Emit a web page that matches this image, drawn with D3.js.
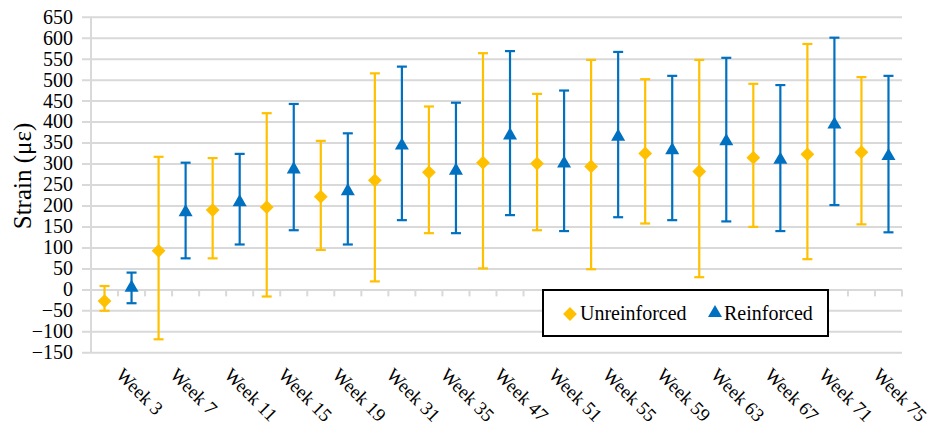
<!DOCTYPE html>
<html>
<head>
<meta charset="utf-8">
<script src="https://cdn.jsdelivr.net/npm/d3@7"></script>
<style>
  body { margin: 0; background: #fff; }
</style>
</head>
<body>
<div id="chart"></div>
<script>
// data
var weeks = ["Week 3", "Week 7", "Week 11", "Week 15", "Week 19", "Week 31", "Week 35", "Week 47",
             "Week 51", "Week 55", "Week 59", "Week 63", "Week 67", "Week 71", "Week 75"];
var seriesNames = ["Unreinforced", "Reinforced"];

var unreinforcedMean = [-28, 92, 189, 196, 221, 260, 279, 302, 300, 293, 324, 281, 314, 322, 327];
var unreinforcedHigh = [8, 316, 313, 420, 354, 515, 436, 563, 466, 547, 501, 547, 490, 585, 506];
var unreinforcedLow  = [-51, -119, 74, -17, 94, 19, 134, 50, 141, 48, 157, 29, 149, 72, 155];

var reinforcedMean = [4, 184, 208, 286, 234, 343, 283, 367, 300, 364, 332, 353, 309, 393, 318];
var reinforcedHigh = [40, 302, 323, 442, 372, 531, 445, 568, 474, 566, 509, 552, 487, 600, 509];
var reinforcedLow  = [-33, 74, 107, 141, 107, 165, 134, 177, 139, 172, 165, 162, 139, 201, 136];

var yTicks = [-150, -100, -50, 0, 50, 100, 150, 200, 250, 300, 350, 400, 450, 500, 550, 600, 650];

var colors = { Unreinforced: "#FFC000", Reinforced: "#0070C0" };
var FONT = "'Liberation Serif', 'Times New Roman', 'DejaVu Serif', serif";

var W = 935, H = 436;
var plot = { left: 91, right: 902, top: 16.7, bottom: 352.3 };

var svg = d3.select("#chart")
  .append("svg")
    .attr("width", W)
    .attr("height", H)
    .style("font-family", FONT);

svg.append("rect").attr("width", W).attr("height", H).attr("fill", "#fff");

var y = d3.scaleLinear()
    .domain([-150, 650])
    .range([plot.bottom, plot.top]);

var x = d3.scaleBand()
    .domain(weeks)
    .range([plot.left, plot.right]);

var xInner = d3.scaleBand()
    .domain(seriesNames)
    .range([0, x.bandwidth()]);

// gridlines + y labels
var gy = svg.append("g")
    .attr("transform", "translate(82,0)")
    .call(d3.axisLeft(y)
      .tickValues(yTicks)
      .tickSize(-(plot.right - 82))
      .tickSizeOuter(0)
      .tickPadding(9)
      .tickFormat(d3.format("d")));

gy.attr("font-family", FONT);
gy.select(".domain").remove();
gy.selectAll(".tick line")
    .attr("stroke", "#d9d9d9")
    .attr("stroke-width", 2);
gy.selectAll(".tick text")
    .attr("fill", "#000")
    .style("font-family", FONT)
    .style("font-size", "20px");

// vertical axis line
svg.append("line")
    .attr("x1", plot.left).attr("x2", plot.left)
    .attr("y1", plot.top).attr("y2", plot.bottom)
    .attr("stroke", "#d9d9d9")
    .attr("stroke-width", 2);

// category tick marks on the zero line
var slots = [];
weeks.forEach(function (w) {
  seriesNames.forEach(function (s) {
    slots.push(x(w) + xInner(s) + xInner.bandwidth());
  });
});
svg.append("g")
  .selectAll("line")
  .data(slots)
  .enter()
  .append("line")
    .attr("x1", function (d) { return d; })
    .attr("x2", function (d) { return d; })
    .attr("y1", y(0))
    .attr("y2", y(0) + 7)
    .attr("stroke", "#d9d9d9")
    .attr("stroke-width", 2);

// week labels
svg.append("g")
  .selectAll("text")
  .data(weeks)
  .enter()
  .append("text")
    .attr("transform", function (d) {
      return "translate(" + (x(d) + 24) + ",376) rotate(45)";
    })
    .attr("text-anchor", "start")
    .style("font-family", FONT)
    .style("font-size", "19px")
    .text(function (d) { return d; });

// y title
svg.append("text")
    .attr("transform", "translate(31,176) rotate(-90)")
    .attr("text-anchor", "middle")
    .style("font-family", FONT)
    .style("font-size", "25px")
    .text("Strain (με)");

function buildSeries(name, mean, hi, lo) {
  return weeks.map(function (w, i) {
    return { week: w, series: name, mean: mean[i], hi: hi[i], lo: lo[i] };
  });
}

var seriesData = [
  buildSeries("Unreinforced", unreinforcedMean, unreinforcedHigh, unreinforcedLow),
  buildSeries("Reinforced", reinforcedMean, reinforcedHigh, reinforcedLow)
];

// diamond = square turned 45 degrees
var diamond = d3.symbol().type(d3.symbolSquare).size(95);
var triangle = d3.symbol().type(d3.symbolTriangle).size(85);

function markerTransform(series, px, py) {
  return "translate(" + px + "," + py + ")" + (series == "Unreinforced" ? " rotate(45)" : "");
}

seriesData.forEach(function (data) {
  var g = svg.append("g");
  var cx = function (d) { return x(d.week) + xInner(d.series) + xInner.bandwidth() / 2; };
  var name = data[0].series;
  var col = colors[name];

  var bars = g.selectAll(".err")
    .data(data)
    .enter()
    .append("g");

  bars.append("line")
    .attr("x1", cx).attr("x2", cx)
    .attr("y1", function (d) { return y(d.hi); })
    .attr("y2", function (d) { return y(d.lo); })
    .attr("stroke", col)
    .attr("stroke-width", 2.2);

  ["hi", "lo"].forEach(function (k) {
    bars.append("line")
      .attr("x1", function (d) { return cx(d) - 5; })
      .attr("x2", function (d) { return cx(d) + 5; })
      .attr("y1", function (d) { return y(d[k]); })
      .attr("y2", function (d) { return y(d[k]); })
      .attr("stroke", col)
      .attr("stroke-width", 2.2);
  });

  bars.append("path")
    .attr("d", name == "Unreinforced" ? diamond : triangle)
    .attr("transform", function (d) { return markerTransform(name, cx(d), y(d.mean)); })
    .attr("fill", col);
});

// legend
var lg = svg.append("g").attr("transform", "translate(543,290)");
lg.append("rect")
    .attr("width", 285).attr("height", 46)
    .attr("fill", "#fff")
    .attr("stroke", "#000")
    .attr("stroke-width", 2);
lg.append("path")
    .attr("d", diamond)
    .attr("transform", markerTransform("Unreinforced", 27, 24))
    .attr("fill", colors.Unreinforced);
lg.append("text")
    .attr("x", 37).attr("y", 30)
    .style("font-family", FONT)
    .style("font-size", "20px")
    .text("Unreinforced");
lg.append("path")
    .attr("d", triangle)
    .attr("transform", markerTransform("Reinforced", 172, 23))
    .attr("fill", colors.Reinforced);
lg.append("text")
    .attr("x", 181).attr("y", 30)
    .style("font-family", FONT)
    .style("font-size", "20px")
    .text("Reinforced");
</script>
</body>
</html>
